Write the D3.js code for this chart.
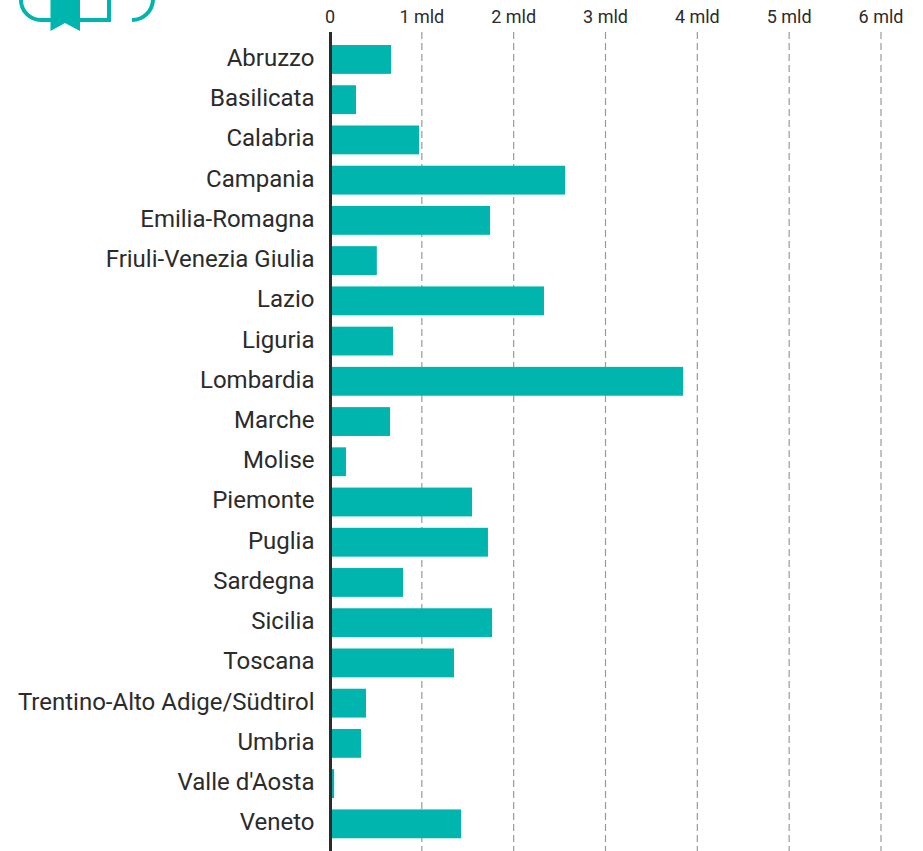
<!DOCTYPE html>
<html>
<head>
  <meta charset="utf-8">
  <title>Regioni</title>
  <style>
    html, body { margin: 0; padding: 0; background: #fff; overflow: hidden; }
    text { font-family: Roboto, sans-serif; fill: #2b2b2b; }
  </style>
</head>
<body>
  <div id="viz"></div>
  <script src="https://d3js.org/d3.v7.min.js"></script>
  <script>
    const regions = ['Abruzzo', 'Basilicata', 'Calabria', 'Campania', 'Emilia-Romagna',
      'Friuli-Venezia Giulia', 'Lazio', 'Liguria', 'Lombardia', 'Marche', 'Molise',
      'Piemonte', 'Puglia', 'Sardegna', 'Sicilia', 'Toscana',
      'Trentino-Alto Adige/Südtirol', 'Umbria', "Valle d'Aosta", 'Veneto'];
    const values = [0.665, 0.283, 0.97, 2.56, 1.743, 0.51, 2.33, 0.686, 3.845, 0.654,
      0.174, 1.547, 1.72, 0.795, 1.765, 1.35, 0.392, 0.338, 0.045, 1.427];
    const ticks = [0, 1, 2, 3, 4, 5, 6];

    const width = 923, height = 851;
    const teal = '#00b5ad';

    const svg = d3.select('#viz').append('svg')
      .attr('width', width)
      .attr('height', height)
      .style('display', 'block');

    //x scale
    const x = d3.scaleLinear().domain([0, 6]).range([330, 881]);

    //y scale
    const y = d3.scaleBand()
      .domain(regions)
      .range([39.4, 843.9])
      .paddingInner(0.283)
      .paddingOuter(0.14);

    // logo, cut off by the top of the page
    const logo = svg.append('g');
    logo.append('path')
      .attr('d', 'M21,-4 V0 A20,20 0 0 0 41,20 H109 V-4')
      .attr('fill', 'none').attr('stroke', teal).attr('stroke-width', 4);
    logo.append('path')
      .attr('d', 'M132,20 A21,21 0 0 0 153,-1 V-4')
      .attr('fill', 'none').attr('stroke', teal).attr('stroke-width', 4);
    logo.append('path')
      .attr('d', 'M50.5,0 H80 V31 L65,23 L50.5,31 Z')
      .attr('fill', teal);

    // grid
    svg.append('g').selectAll('line')
      .data(ticks.slice(1))
      .join('line')
      .attr('x1', d => x(d))
      .attr('x2', d => x(d))
      .attr('y1', 32)
      .attr('y2', height)
      .attr('stroke', '#9a9a9a')
      .attr('stroke-width', 1.2)
      .attr('stroke-dasharray', '7 4');

    // tick labels
    svg.append('g').selectAll('text')
      .data(ticks)
      .join('text')
      .attr('x', d => x(d))
      .attr('y', 22.5)
      .attr('text-anchor', 'middle')
      .style('font-size', '18px')
      .text(d => d === 0 ? '0' : d + ' mld');

    // bars
    svg.append('g').selectAll('rect')
      .data(regions)
      .join('rect')
      .attr('x', x(0))
      .attr('y', d => y(d))
      .attr('width', (d, i) => x(values[i]) - x(0))
      .attr('height', y.bandwidth())
      .attr('fill', teal);

    // region labels
    svg.append('g').selectAll('text')
      .data(regions)
      .join('text')
      .attr('x', 314.5)
      .attr('y', d => y(d) + y.bandwidth() / 2 - 1.9)
      .attr('dy', '.35em')
      .attr('text-anchor', 'end')
      .style('font-size', '24px')
      .text(d => d);

    // baseline
    svg.append('line')
      .attr('x1', x(0) + 0.5)
      .attr('x2', x(0) + 0.5)
      .attr('y1', 32)
      .attr('y2', height)
      .attr('stroke', '#2b2b2b')
      .attr('stroke-width', 3);
  </script>
</body>
</html>
